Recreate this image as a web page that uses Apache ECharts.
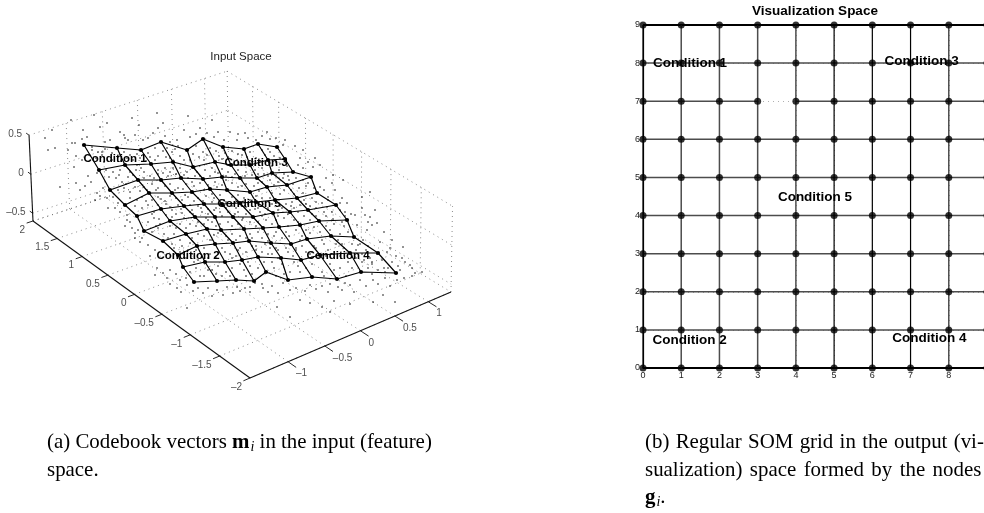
<!DOCTYPE html>
<html><head><meta charset="utf-8">
<style>html,body{margin:0;padding:0;background:#fff}#c{width:984px;height:513px}</style>
<script src="https://cdn.jsdelivr.net/npm/echarts@6/dist/echarts.min.js"></script>
</head><body><div id="c"></div>
<script>
// ---------- (a) Input space: readings in the projected plane of the 3-D view ----------
const nodeRow0=[[84,145],[117,148],[141,150],[161,142],[187,150],[203,139],[223,147],[244,149],[258,144],[277,147]];
const nodeRow1=[[99,170],[125,165],[151,164],[173,162],[193,167],[215,162],[231,165],[250,165],[268,160],[285,159]];
const nodeRow2=[[110,190],[138,180],[161,180],[181,178],[203,179],[222,177],[240,178],[257,178],[272,173],[293,172]];
const nodeRow3=[[125,205],[149,193],[172,193],[192,192],[210,189],[227,190],[250,192],[267,187],[287,185],[311,177]];
const nodeRow4=[[137,216],[161,209],[184,206],[204,204],[222,204],[240,203],[256,202],[275,200],[297,198],[317,193]];
const nodeRow5=[[144,231],[170,221],[195,217],[215,217],[233,217],[253,217],[273,213],[290,212],[308,210],[336,205]];
const nodeRow6=[[163,241],[186,234],[207,229],[221,230],[244,229],[263,228],[279,227],[300,225],[319,221],[347,220]];
const nodeRow7=[[178,255],[197,246],[215,244],[233,243],[249,241],[271,243],[291,244],[307,239],[331,236],[354,237]];
const nodeRow8=[[183,267],[205,262],[225,262],[242,260],[258,257],[281,258],[301,260],[320,255],[350,253],[378,253]];
const nodeRow9=[[194,282],[217,281],[236,280],[254,281],[266,272],[288,280],[312,277],[337,279],[361,272],[396,273]];
const nodeRows=[nodeRow0,nodeRow1,nodeRow2,nodeRow3,nodeRow4,nodeRow5,nodeRow6,nodeRow7,nodeRow8,nodeRow9];

const samplesOuterTop=[52,130,45,138,48,150,71,120,83,130,94,115,100,127,107,123,132,118,157,113,139,125,163,123,188,116,200,128,212,120,218,132,55,148,72,143,76,183,60,187,82,139,87,137,110,140,124,135,125,138,105,142,153,133,143,140,170,142,177,140,190,137,75,143,92,147,102,155,97,173,80,190,97,193,95,200,118,203,115,208,127,215,108,208,230,132,238,134,248,138,262,136,270,139,285,140,295,146,303,150,300,158,315,158,320,165,313,167,333,175,343,180,320,187,347,203,340,203,370,192,362,197,355,215,365,215,375,210,326,178,335,190,328,197,120,132,128,140,135,135,148,138,158,128,165,136,184,130,196,134,207,133,214,137,224,140,237,140,245,133,256,140,267,132,276,138,283,145,68,150,76,156,82,160,74,167,88,176,91,182,85,186,103,188,100,196,107,198,113,197,120,212,130,222,125,226,135,238,142,238,148,245,155,250,150,256];
const samplesOuterBottom=[370,217,377,223,357,225,367,230,403,247,380,242,387,252,377,254,410,265,422,272,415,273,400,270,397,280,373,280,350,285,338,287,383,295,395,302,373,302,350,304,334,301,322,307,290,317,277,307,250,287,263,288,237,287,290,290,310,285,255,283,157,268,163,273,170,270,155,275,167,278,138,230,135,233,140,242,132,228,127,220,177,288,187,285,198,288,208,288,233,293,217,290,223,295,240,291,187,308,250,292,262,284,272,286,283,283,296,288,305,291,322,286,330,284,345,283,360,280,385,278,405,262,392,262,372,262,384,232,392,240,363,240,170,284,180,280,176,274,181,292,193,291,203,293,212,296,227,287,245,288,268,292,278,293,316,289,328,292,342,290,354,292,366,286,378,284,390,286,404,278,412,276,330,312,300,300,310,303,368,222,362,208,372,225,390,248,396,256,402,258,412,268,398,266,358,245,362,254,368,246,384,268,372,274,351,214,345,212,342,198,324,190,332,183,303,168,308,162,298,165];
const samplesSurfaceUpper=[92,150,98,152,105,149,112,153,124,152,130,155,137,154,148,153,155,148,167,148,172,152,178,146,196,146,210,148,216,151,232,151,238,154,250,152,262,150,270,152,96,158,104,162,112,160,118,157,133,160,140,158,146,161,158,156,166,157,180,156,184,160,199,157,207,155,219,156,228,158,237,160,247,157,256,158,265,155,274,156,280,158,106,170,113,172,120,170,130,172,136,170,144,172,158,170,165,168,170,172,180,168,187,172,197,172,205,170,212,168,222,169,228,172,238,170,246,172,255,170,262,168,272,166,280,164,287,166,116,178,122,182,128,177,144,178,150,176,158,174,168,176,176,174,188,178,195,176,210,176,218,173,226,176,235,174,245,176,252,175,264,174,279,170,284,174,118,190,124,188,130,192,135,187,144,187,152,184,158,188,165,186,170,184,178,188,186,184,194,186,200,183,208,185,215,182,222,185,232,183,238,187,246,184,254,186,262,182,270,180,278,182,288,176,296,178,303,180,102,152,120,155,127,158,150,157,163,151,175,149,193,154,203,152,225,153,242,155,268,149,121,161,137,165,155,160,170,158,190,160,204,160,222,159,244,162,260,161,276,162,109,177,119,175,133,175,141,168,154,178,163,173,173,168,184,175,192,182,200,176,215,172,232,177,242,180,258,174,268,176,276,175,289,180,126,184,140,191,147,190,156,190,175,190,183,189,204,190,217,187,226,180,242,186,258,183,274,185,283,178,293,184,308,183];
const samplesSurfaceMiddle=[130,198,137,200,142,197,152,200,158,197,165,201,176,198,182,200,188,197,198,198,206,196,214,198,220,195,232,197,238,195,244,198,256,196,262,198,272,193,280,194,291,190,299,188,306,186,142,208,148,205,154,212,166,204,172,210,178,205,192,210,198,206,208,209,216,208,226,208,232,206,246,207,250,210,262,206,268,208,280,206,286,204,292,202,304,200,312,198,148,222,154,218,160,224,166,215,176,214,184,218,190,212,202,212,208,214,220,212,228,212,238,212,246,214,260,212,268,210,282,208,294,208,300,205,310,206,322,203,328,200,152,232,158,228,164,234,176,228,180,224,190,224,198,222,204,224,212,222,220,224,228,222,238,224,250,222,258,222,266,220,276,220,284,218,294,220,304,216,312,214,324,212,332,212,340,210,135,206,146,201,161,199,170,196,185,195,194,201,203,201,212,194,226,202,236,200,250,200,259,191,270,198,284,190,294,194,303,193,314,188,152,214,158,205,170,207,181,209,190,205,201,208,212,202,224,200,236,208,248,204,258,208,272,204,278,210,291,206,306,204,316,202,327,207,159,219,172,217,182,213,193,214,206,218,214,210,222,216,235,214,243,218,255,209,265,214,278,216,288,214,298,212,316,208,326,216,345,216,156,226,170,226,186,228,196,226,208,220,216,226,232,226,242,220,256,226,262,216,272,224,288,226,298,222,310,220,316,216,333,219,342,222];
const samplesSurfaceLower=[168,238,174,234,180,240,192,238,198,234,204,236,214,235,226,236,232,234,240,236,250,234,258,232,268,234,276,232,286,232,296,230,306,230,314,227,326,226,334,224,344,226,174,248,182,246,188,250,204,248,210,240,222,248,228,240,240,248,246,238,256,246,262,238,276,248,282,238,296,248,302,236,314,246,322,240,338,240,348,232,186,258,192,254,198,260,210,254,218,252,230,254,238,250,246,252,252,246,262,252,270,248,278,250,288,252,296,250,306,252,316,248,328,250,336,244,344,248,360,244,366,250,190,272,196,268,200,276,212,270,218,266,226,272,232,268,244,270,250,266,258,268,264,262,274,268,282,264,290,272,298,266,306,268,312,264,322,272,330,264,340,268,348,262,356,258,364,260,372,264,382,260,388,268,204,276,222,276,246,276,276,276,300,272,324,276,346,276,368,268,378,270,172,244,190,243,212,240,218,233,236,240,252,238,268,241,274,236,289,236,300,240,310,233,320,232,330,230,340,234,180,252,196,250,204,254,225,252,236,256,256,250,265,244,272,254,286,248,302,246,310,254,324,244,342,244,352,244,194,262,208,258,216,258,232,258,248,262,268,254,278,258,293,256,312,252,326,256,340,256,356,250,370,258,186,278,208,270,216,274,230,276,240,264,252,274,272,262,284,274,294,262,318,258,334,270,352,268,362,262,385,272];
const samplesSurface=[samplesOuterTop,samplesOuterBottom,samplesSurfaceUpper,samplesSurfaceMiddle,samplesSurfaceLower];

const inputTitle='Input Space';
const inputLabels=[['Condition 1',115,159],['Condition 3',256,163],['Condition 5',249,204],['Condition 2',188,256],['Condition 4',338,256]];
const xTicks3d=[-1,-0.5,0,0.5,1];
const yTicks3d=[-2,-1.5,-1,-0.5,0,0.5,1,1.5,2];
const zTicks3d=[-0.5,0,0.5];
const xRange3d=[-1.5,1.35], yRange3d=[-2,2], zRange3d=[-0.6,0.5];
const floorA=[250,378], floorC=[451,292], floorD=[228.5,157], floorB=[33,221];

// ---------- (b) Visualization space ----------
const gridCoords=[0,1,2,3,4,5,6,7,8,9];
const gridTitle='Visualization Space';
const gridLabels=[['Condition 1',1.23,7.99],['Condition 3',7.29,8.05],['Condition 5',4.5,4.49],['Condition 2',1.22,0.72],['Condition 4',7.49,0.78]];
const gridGapRow=7, gridGapAfter=3;

const SANS='"Liberation Sans",Arial,sans-serif', SERIF='"Liberation Serif","Times New Roman",serif';

const homography=(function(){
  const [x0,y0]=floorA,[x1,y1]=floorC,[x2,y2]=floorD,[x3,y3]=floorB;
  const dx1=x1-x2,dx2=x3-x2,sx=x0-x1+x2-x3,dy1=y1-y2,dy2=y3-y2,sy=y0-y1+y2-y3;
  const den=dx1*dy2-dx2*dy1,g=(sx*dy2-dx2*sy)/den,h=(dx1*sy-sx*dy1)/den;
  return {a:x1-x0+g*x1,b:x3-x0+h*x3,c:x0,d:y1-y0+g*y1,e:y3-y0+h*y3,f:y0,g,h};
})();
function project(x,y,z){
  const u=(x-xRange3d[0])/(xRange3d[1]-xRange3d[0]), v=(y-yRange3d[0])/(yRange3d[1]-yRange3d[0]);
  const m=homography,w=m.g*u+m.h*v+1;
  const px=(m.a*u+m.b*v+m.c)/w, py=(m.d*u+m.e*v+m.f)/w;
  const dz=z-zRange3d[0], lean=-3.6+(px-33)/(451-33)*5;
  return [px+lean*dz, py-78*dz];
}
function seg(a,b,color,width,type){
  return {type:'line',xAxisIndex:0,yAxisIndex:0,data:[a,b],symbol:'none',silent:true,animation:false,clip:false,
    lineStyle:{color,width,type:type||'solid'},z:type?1:3};
}
const dotted=[1,4];
const DOT='#6f6f6f';
const series=[];
const [xa,xb]=xRange3d,[ya,yb]=yRange3d,[za,zb]=zRange3d;
xTicks3d.forEach(x=>series.push(seg(project(x,ya,za),project(x,yb,za),DOT,0.8,dotted)));
yTicks3d.forEach(y=>series.push(seg(project(xa,y,za),project(xb,y,za),DOT,0.8,dotted)));
xTicks3d.forEach(x=>series.push(seg(project(x,yb,za),project(x,yb,zb),DOT,0.8,dotted)));
yTicks3d.forEach(y=>series.push(seg(project(xb,y,za),project(xb,y,zb),DOT,0.8,dotted)));
zTicks3d.forEach(z=>{
  series.push(seg(project(xa,yb,z),project(xb,yb,z),DOT,0.8,dotted));
  series.push(seg(project(xb,yb,z),project(xb,ya,z),DOT,0.8,dotted));
});
series.push(seg(project(xb,yb,za),project(xb,ya,za),DOT,0.8,dotted));
series.push(seg(project(xa,yb,za),project(xb,yb,za),DOT,0.8,dotted));
series.push(seg(project(xa,ya,za),project(xa,yb,za),'#111',1.1));
series.push(seg(project(xa,ya,za),project(xb,ya,za),'#111',1.1));
series.push(seg(project(xa,yb,za),project(xa,yb,zb),'#111',1.1));
yTicks3d.forEach(y=>series.push(seg(project(xa,y,za),project(xa-0.085,y,za),'#111',0.9)));
xTicks3d.forEach(x=>series.push(seg(project(x,ya,za),project(x,ya-0.13,za),'#111',0.9)));
zTicks3d.forEach(z=>series.push(seg(project(xa,yb,z),project(xa,yb+0.06,z),'#111',0.9)));
function fmt(v){return v<0?'\u2013'+Math.abs(v):String(v);}
function tickLabels(points,pos,offset){
  series.push({type:'scatter',xAxisIndex:0,yAxisIndex:0,symbolSize:0,silent:true,animation:false,
    data:points.map(p=>({value:p.at,label:{formatter:p.t}})),
    label:{show:true,position:pos,distance:0,offset,fontFamily:SANS,fontSize:10,color:'#222'},z:6});
}
tickLabels(yTicks3d.map(y=>({at:project(xa,y,za),t:fmt(y)})),'left',[-8,9]);
tickLabels(xTicks3d.map(x=>({at:project(x,ya,za),t:fmt(x)})),'right',[8,12]);
tickLabels(zTicks3d.map(z=>({at:project(xa,yb,z),t:fmt(z)})),'left',[-7,-1]);
const sampleData=[];
samplesSurface.forEach(b=>{for(let i=0;i<b.length;i+=2)sampleData.push([b[i],b[i+1]]);});
series.push({type:'scatter',xAxisIndex:0,yAxisIndex:0,data:sampleData,symbol:'rect',symbolSize:1.4,silent:true,animation:false,
  itemStyle:{color:'#000'},z:4});
nodeRows.forEach(r=>series.push({type:'line',xAxisIndex:0,yAxisIndex:0,data:r,symbol:'circle',symbolSize:4.2,silent:true,animation:false,clip:false,
  itemStyle:{color:'#000'},lineStyle:{color:'#000',width:1.2},z:5}));
nodeRows[0].forEach((_,j)=>series.push({type:'line',xAxisIndex:0,yAxisIndex:0,data:nodeRows.map(r=>r[j]),symbol:'none',silent:true,animation:false,clip:false,
  lineStyle:{color:'#000',width:1.2},z:5}));
function labelSeries(ax,list,size){
  series.push({type:'scatter',xAxisIndex:ax,yAxisIndex:ax,symbolSize:0,silent:true,animation:false,clip:false,
    data:list.map(l=>({value:[l[1],l[2]],label:{formatter:l[0]}})),
    label:{show:true,position:'inside',fontFamily:SANS,fontSize:size,fontWeight:'bold',color:'#000',opacity:1},
    itemStyle:{opacity:1},z:8});
}
labelSeries(0,inputLabels,11.5);

gridCoords.forEach(r=>{
  const pts=[];
  gridCoords.forEach(c=>{
    pts.push([c,r]);
    if(r===gridGapRow&&c===gridGapAfter)pts.push([c+0.5,null]);
  });
  const edge=(r===0||r===9);
  series.push({type:'line',xAxisIndex:1,yAxisIndex:1,data:pts,symbol:'none',silent:true,animation:false,clip:false,connectNulls:false,
    lineStyle:{color:edge?'#000':'#4d4d4d',width:edge?2:1.5},z:3});
});
gridCoords.forEach(c=>{
  const dark=(c===0||c===5||c===6||c===7);
  series.push({type:'line',xAxisIndex:1,yAxisIndex:1,data:gridCoords.map(r=>[c,r]),symbol:'none',silent:true,animation:false,clip:false,
    lineStyle:{color:dark?'#000':'#4d4d4d',width:dark?1.2:1.5},z:3});
});
const gridNodes=[];
gridCoords.forEach(c=>gridCoords.forEach(r=>gridNodes.push([c,r])));
series.push({type:'scatter',xAxisIndex:1,yAxisIndex:1,data:gridNodes,symbol:'circle',symbolSize:7,silent:true,animation:false,clip:false,
  itemStyle:{color:'#000'},z:5});
labelSeries(1,gridLabels,13.5);

const chart=echarts.init(document.getElementById('c'),null,{renderer:'canvas'});
const CAP=20.9;
const capRich={b:{fontFamily:SERIF,fontSize:CAP,fontWeight:'bold',color:'#111'},
  s:{fontFamily:SERIF,fontSize:14,fontStyle:'italic',color:'#111',padding:[9,0,0,1]},
  t:{fontFamily:SERIF,fontSize:CAP,color:'#111'},
  j1:{fontFamily:SERIF,fontSize:CAP,width:6.3},
  j2:{fontFamily:SERIF,fontSize:CAP,width:7.4}};
function capText(x,y,text){return {type:'text',left:x,top:y,silent:true,style:{rich:capRich,text}};}
function just(line,sp){return line.split(' ').map(w=>'{t|'+w+'}').join('{'+sp+'| }');}
chart.setOption({
  animation:false,backgroundColor:'#fff',
  title:[
    {text:inputTitle,left:241,top:51,textAlign:'center',textStyle:{fontFamily:SANS,fontSize:11.5,fontWeight:'normal',color:'#222'},padding:0},
    {text:gridTitle,left:815,top:4,textAlign:'center',textStyle:{fontFamily:SANS,fontSize:13.5,fontWeight:'bold',color:'#000'},padding:0}
  ],
  grid:[
    {left:0,top:0,width:984,height:513,containLabel:false,outerBoundsMode:'none'},
    {left:643,top:25,width:344,height:343,containLabel:false,outerBoundsMode:'none'}
  ],
  xAxis:[
    {gridIndex:0,type:'value',min:0,max:984,show:false},
    {gridIndex:1,type:'value',min:0,max:9,interval:1,
     axisLine:{show:true,onZero:false,lineStyle:{color:'#000',width:1.5}},axisTick:{show:false},
     axisLabel:{fontFamily:SANS,fontSize:9,color:'#222',margin:3},
     splitLine:{show:true,lineStyle:{type:dotted,color:'#9a9a9a',width:0.8}}}
  ],
  yAxis:[
    {gridIndex:0,type:'value',min:0,max:513,inverse:true,show:false},
    {gridIndex:1,type:'value',min:0,max:9,interval:1,
     axisLine:{show:true,onZero:false,lineStyle:{color:'#000',width:1.2}},axisTick:{show:false},
     axisLabel:{fontFamily:SANS,fontSize:9,color:'#222',margin:3},
     splitLine:{show:true,lineStyle:{type:dotted,color:'#9a9a9a',width:0.8}}}
  ],
  series,
  graphic:[
    capText(47,432,'{t|(a) Codebook vectors }{b|m}{s|i}{t| in the input (feature)}'),
    capText(47,460,'{t|space.}'),
    capText(645,432,just('(b) Regular SOM grid in the output (vi-','j1')),
    capText(645,460,just('sualization) space formed by the nodes','j2')),
    capText(645,487,'{b|g}{s|i}{t|.}')
  ]
});
</script></body></html>
